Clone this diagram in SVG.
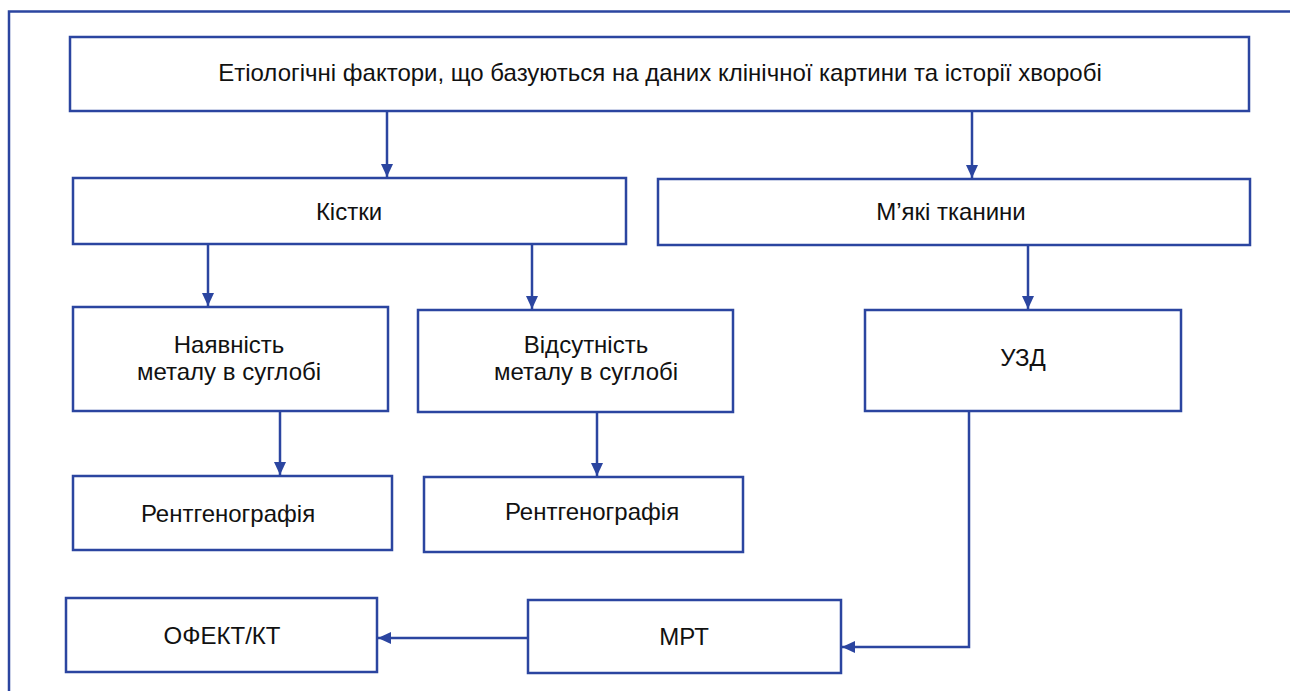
<svg xmlns="http://www.w3.org/2000/svg" width="1290" height="691" viewBox="0 0 1290 691">
<style>
.box{fill:#fff;stroke:#2b45a0;stroke-width:2.5}
.ln{fill:none;stroke:#2b45a0;stroke-width:2.5}
text{font-family:"Liberation Sans",Arial,sans-serif;font-size:24px;fill:#111;text-anchor:middle}
</style>
<defs>
<marker id="ar" markerUnits="userSpaceOnUse" markerWidth="14" markerHeight="14" viewBox="0 0 14 14" refX="13" refY="7" orient="auto">
<path d="M0,1 L13,7 L0,13 Z" fill="#2b45a0"/>
</marker>
</defs>
<rect width="1290" height="691" fill="#fff"/>
<path class="ln" d="M9,691 V11.5 H1290"/>
<g id="connectors">
<path class="ln" d="M387,111 V177" marker-end="url(#ar)"/>
<path class="ln" d="M972,111 V178" marker-end="url(#ar)"/>
<path class="ln" d="M208,244 V306" marker-end="url(#ar)"/>
<path class="ln" d="M532,244 V309" marker-end="url(#ar)"/>
<path class="ln" d="M1028,245 V309" marker-end="url(#ar)"/>
<path class="ln" d="M280,411 V475" marker-end="url(#ar)"/>
<path class="ln" d="M597,412 V476" marker-end="url(#ar)"/>
<path class="ln" d="M969,411 V647 H842" marker-end="url(#ar)"/>
<path class="ln" d="M528,638 H378" marker-end="url(#ar)"/>
</g>
<g id="n-top"><rect class="box" x="70" y="37" width="1179" height="74"/><text x="660" y="81">Етіологічні фактори, що базуються на даних клінічної картини та історії хворобі</text></g>
<g id="n-kistky"><rect class="box" x="73" y="178" width="553" height="66"/><text x="349" y="220">Кістки</text></g>
<g id="n-myaki"><rect class="box" x="658" y="179" width="592" height="66"/><text x="951" y="220">М’які тканини</text></g>
<g id="n-nayavnist"><rect class="box" x="73" y="307" width="315" height="104"/><text x="229" y="353">Наявність</text><text x="229" y="380">металу в суглобі</text></g>
<g id="n-vidsutnist"><rect class="box" x="418" y="310" width="315" height="102"/><text x="586" y="353">Відсутність</text><text x="586" y="380">металу в суглобі</text></g>
<g id="n-uzd"><rect class="box" x="865" y="310" width="316" height="101"/><text x="1023" y="366">УЗД</text></g>
<g id="n-rentgen1"><rect class="box" x="73" y="476" width="319" height="74"/><text x="228" y="522">Рентгенографія</text></g>
<g id="n-rentgen2"><rect class="box" x="424" y="477" width="319" height="75"/><text x="592" y="520">Рентгенографія</text></g>
<g id="n-ofekt"><rect class="box" x="66" y="598" width="311" height="74"/><text x="222" y="644">ОФЕКТ/КТ</text></g>
<g id="n-mrt"><rect class="box" x="528" y="600" width="313" height="73"/><text x="684" y="645">МРТ</text></g>
</svg>
